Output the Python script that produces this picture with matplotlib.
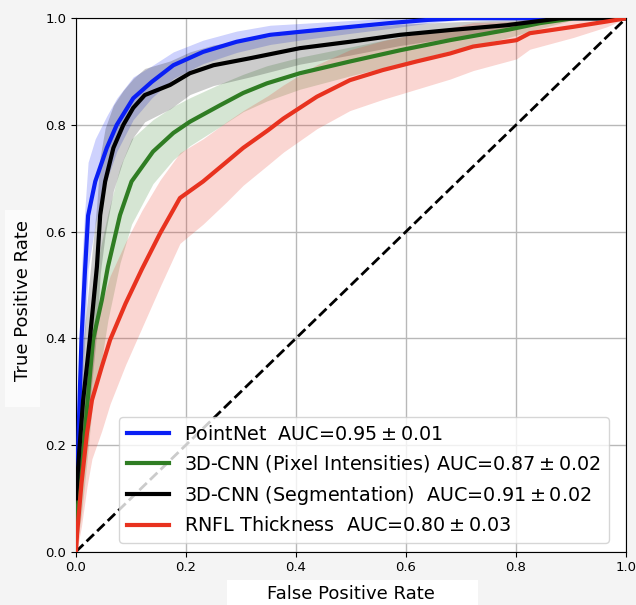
import matplotlib
matplotlib.use("Agg")
import matplotlib.pyplot as plt
from matplotlib.patches import Rectangle
import numpy as np

# ---- data ----
blue_fpr = [0, 0.004, 0.01, 0.016, 0.022, 0.035, 0.056, 0.074, 0.104, 0.138, 0.177, 0.231, 0.292, 0.353, 0.42, 0.5, 0.57, 0.64, 0.7, 0.8, 0.9, 1.0]
blue_tpr = [0.11, 0.2, 0.4, 0.52, 0.63, 0.694, 0.757, 0.80, 0.85, 0.881, 0.912, 0.937, 0.956, 0.969, 0.976, 0.984, 0.991, 0.997, 1.0, 1.0, 1.0, 1.0]
blue_std = [0.1, 0.12, 0.13, 0.12, 0.1, 0.08, 0.06, 0.05, 0.04, 0.03, 0.025, 0.022, 0.02, 0.018, 0.015, 0.012, 0.01, 0.006, 0.003, 0, 0, 0]

green_fpr = [0, 0.01, 0.02, 0.031, 0.047, 0.058, 0.08, 0.101, 0.14, 0.177, 0.207, 0.262, 0.304, 0.347, 0.407, 0.498, 0.589, 0.68, 0.783, 0.844, 0.904, 1.0]
green_tpr = [0.05, 0.15, 0.27, 0.397, 0.472, 0.534, 0.631, 0.694, 0.75, 0.785, 0.806, 0.837, 0.86, 0.878, 0.897, 0.919, 0.94, 0.959, 0.978, 0.991, 1.0, 1.0]
green_std = [0.05, 0.08, 0.1, 0.11, 0.11, 0.1, 0.09, 0.08, 0.06, 0.05, 0.045, 0.04, 0.035, 0.033, 0.03, 0.027, 0.025, 0.02, 0.015, 0.01, 0.003, 0]

black_fpr = [0, 0.006, 0.013, 0.025, 0.038, 0.044, 0.053, 0.068, 0.086, 0.104, 0.125, 0.171, 0.207, 0.25, 0.316, 0.407, 0.498, 0.589, 0.68, 0.783, 0.88, 1.0]
black_tpr = [0.10, 0.19, 0.284, 0.397, 0.534, 0.631, 0.694, 0.757, 0.80, 0.832, 0.856, 0.875, 0.897, 0.912, 0.925, 0.944, 0.956, 0.969, 0.978, 0.987, 1.0, 1.0]
black_std = [0.08, 0.1, 0.11, 0.12, 0.12, 0.11, 0.1, 0.08, 0.065, 0.055, 0.05, 0.045, 0.04, 0.038, 0.035, 0.03, 0.025, 0.02, 0.015, 0.01, 0.003, 0]

red_fpr = [0, 0.002, 0.01, 0.02, 0.029, 0.047, 0.062, 0.09, 0.12, 0.153, 0.189, 0.231, 0.274, 0.304, 0.349, 0.377, 0.438, 0.498, 0.558, 0.619, 0.68, 0.722, 0.801, 0.825, 0.904, 0.965, 1.0]
red_tpr = [0.0, 0.034, 0.128, 0.222, 0.284, 0.347, 0.397, 0.465, 0.53, 0.597, 0.663, 0.694, 0.731, 0.757, 0.79, 0.812, 0.853, 0.884, 0.903, 0.919, 0.934, 0.947, 0.959, 0.972, 0.984, 0.994, 1.0]
red_std = [0.0, 0.03, 0.08, 0.1, 0.11, 0.12, 0.12, 0.115, 0.11, 0.1, 0.085, 0.08, 0.075, 0.07, 0.065, 0.063, 0.06, 0.057, 0.055, 0.052, 0.048, 0.045, 0.035, 0.03, 0.02, 0.01, 0]

labels = [r"PointNet  AUC=$0.95\pm0.01$",
          r"3D-CNN (Pixel Intensities) AUC=$0.87\pm0.02$",
          r"3D-CNN (Segmentation)  AUC=$0.91\pm0.02$",
          r"RNFL Thickness  AUC=$0.80\pm0.03$"]
colors = ["#0a1ff5", "#2f7d23", "#000000", "#e8321f"]
ticks = [0.0, 0.2, 0.4, 0.6, 0.8, 1.0]

series = [(blue_fpr, blue_tpr, blue_std),
          (green_fpr, green_tpr, green_std),
          (black_fpr, black_tpr, black_std),
          (red_fpr, red_tpr, red_std)]

W, H = 636, 605
fig = plt.figure(figsize=(W / 100, H / 100), dpi=100, facecolor="#f4f4f4")
# light boxes behind the axis labels (as in the reference)
fig.patches.append(Rectangle((227 / W, 0), (478 - 227) / W, (605 - 580) / H,
                             transform=fig.transFigure, facecolor="white",
                             edgecolor="none", zorder=-10))
fig.patches.append(Rectangle((5 / W, 1 - 407 / H), 35 / W, (407 - 210) / H,
                             transform=fig.transFigure, facecolor="#fbfbfb",
                             edgecolor="none", zorder=-10))

ax = fig.add_axes([76 / W, 1 - 551.6 / H, 550 / W, 533.3 / H])
ax.set_facecolor("white")

for (f, t, s), c in zip(series, colors):
    f = np.array(f); t = np.array(t); s = np.array(s)
    ax.fill_between(f, np.clip(t - s, 0, 1), np.clip(t + s, 0, 1),
                    color=c, alpha=0.2, linewidth=0, zorder=2)
for (f, t, s), c, lab in zip(series, colors, labels):
    ax.plot(f, t, color=c, lw=3, label=lab, zorder=3)

ax.plot([0, 1], [0, 1], "k--", lw=2, zorder=2.5)

ax.set_xlim(0, 1)
ax.set_ylim(0, 1)
ax.set_xticks(ticks)
ax.set_yticks(ticks)
ax.tick_params(labelsize=9.5)
ax.grid(True, color="#b8b8b8", lw=1)
ax.set_axisbelow(True)

ax.set_xlabel("False Positive Rate", fontsize=13)
ax.xaxis.set_label_coords(0.5, -0.062)
ax.set_ylabel("True Positive Rate", fontsize=13)
ax.yaxis.set_label_coords(-0.08, 0.47)

leg = ax.legend(loc="lower right", bbox_to_anchor=(0.969, 0.016),
                borderaxespad=0, fontsize=13.8, handlelength=2.2,
                framealpha=0.8)
for line in leg.get_lines():
    line.set_linewidth(3)

fig.savefig("out.png", dpi=100, facecolor=fig.get_facecolor())
